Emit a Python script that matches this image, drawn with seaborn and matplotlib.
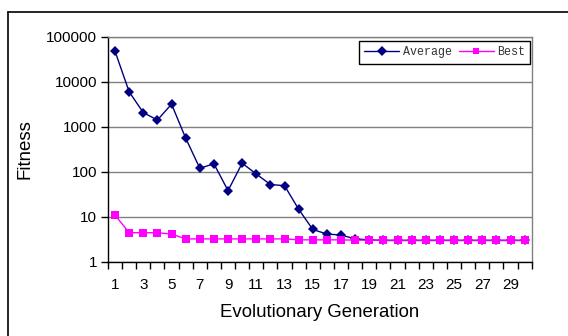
import numpy as np
import pandas as pd
import matplotlib
matplotlib.use("Agg")
import matplotlib.pyplot as plt
import seaborn as sns
from matplotlib.lines import Line2D
from matplotlib.ticker import FixedLocator, NullFormatter

generations = list(range(1, 31))
average = [48000, 6000, 2070, 1420, 3200, 560, 120, 150, 38, 155,
           89, 52, 49, 14.6, 5.2, 4.1, 3.9, 3.2, 3.05, 2.95,
           2.95, 2.95, 2.95, 2.95, 2.95, 2.95, 2.95, 2.95, 2.95, 2.95]
best = [10.8, 4.4, 4.4, 4.4, 4.1, 3.2, 3.2, 3.2, 3.2, 3.2,
        3.2, 3.2, 3.2, 3.05, 3.05, 3.05, 3.05, 3.0, 3.0, 3.0,
        3.0, 3.0, 3.0, 3.0, 3.0, 3.0, 3.0, 3.0, 3.0, 3.0]
series_names = ["Average", "Best"]
y_ticks = [1, 10, 100, 1000, 10000, 100000]
x_label_ticks = list(range(1, 30, 2))

df = pd.DataFrame({
    "Generation": generations * 2,
    "Fitness": average + best,
    "Series": [series_names[0]] * 30 + [series_names[1]] * 30,
})

sns.set_theme(style="white")
plt.rcParams["font.family"] = ["Liberation Sans", "DejaVu Sans"]

fig = plt.figure(figsize=(5.68, 3.36), dpi=100)
ax = fig.add_axes([108 / 568, 1 - 261.6 / 336, (531.7 - 108) / 568, (261.6 - 37) / 336])

palette = {"Average": "#000080", "Best": "#FF00FF"}
sns.lineplot(data=df, x="Generation", y="Fitness", hue="Series", style="Series",
             markers={"Average": "D", "Best": "s"}, dashes=False, palette=palette,
             linewidth=1.0, markersize=5.5, markeredgewidth=0, ax=ax, legend=False)

ax.set_yscale("log")
ax.set_ylim(1, 100000)
ax.set_xlim(0.5, 30.5)
ax.yaxis.set_major_locator(FixedLocator(y_ticks))
ax.set_yticklabels([str(t) for t in y_ticks])
ax.yaxis.set_minor_locator(FixedLocator([]))
ax.grid(axis="y", color="#808080", linewidth=1.0)
ax.set_axisbelow(True)

ax.xaxis.set_major_locator(FixedLocator(x_label_ticks))
ax.set_xticklabels([str(t) for t in x_label_ticks])
ax.xaxis.set_minor_locator(FixedLocator(np.arange(0.5, 31, 1.0)))
ax.xaxis.set_minor_formatter(NullFormatter())
ax.tick_params(axis="x", which="major", length=0, pad=11.5, labelsize=11, colors="black")
ax.tick_params(axis="x", which="minor", length=5, width=1, color="black", bottom=True)
ax.tick_params(axis="y", which="major", length=5, width=1, color="black", pad=3,
               labelsize=11, left=True, labelcolor="black")

for s in ["left", "bottom"]:
    ax.spines[s].set_color("black")
    ax.spines[s].set_linewidth(1.0)
for s in ["top", "right"]:
    ax.spines[s].set_color("#808080")
    ax.spines[s].set_linewidth(1.0)
    ax.spines[s].set_visible(True)

ax.set_xlabel("Evolutionary Generation", fontsize=13.4, labelpad=9, color="black")
ax.set_ylabel("Fitness", fontsize=13.4, labelpad=9, color="black")

handles = [
    Line2D([0], [0], color="#000080", marker="D", markersize=5, markeredgewidth=0, linewidth=1.0),
    Line2D([0], [0], color="#FF00FF", marker="s", markersize=5, markeredgewidth=0, linewidth=1.0),
]
leg = ax.legend(handles, series_names, loc="upper right", bbox_to_anchor=(0.997, 0.982),
                borderaxespad=0.0,
                ncol=2, fancybox=False, frameon=True, edgecolor="black", framealpha=1,
                borderpad=0.45, handlelength=3.0, handletextpad=0.3, columnspacing=0.6,
                prop={"family": ["Liberation Mono", "DejaVu Sans Mono"], "size": 8.4})
leg.get_frame().set_linewidth(1.0)
for t in leg.get_texts():
    t.set_color("#333333")

fig.add_artist(Line2D([7.5 / 568, 7.5 / 568], [0, 1 - 12 / 336], color="black", linewidth=1.2,
                      transform=fig.transFigure))
fig.add_artist(Line2D([7.5 / 568, 1], [1 - 12 / 336, 1 - 12 / 336], color="black", linewidth=1.2,
                      transform=fig.transFigure))

fig.savefig("out.png", dpi=100)
